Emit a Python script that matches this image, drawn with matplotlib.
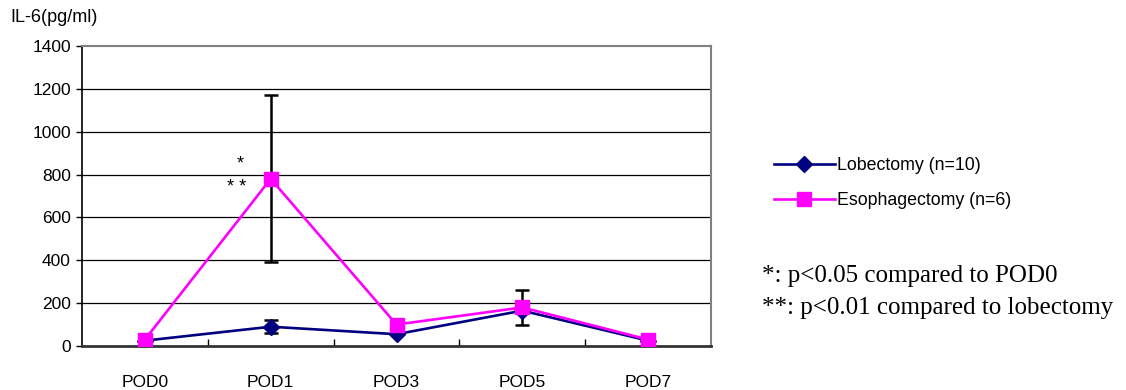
import numpy as np
import matplotlib as mpl
mpl.use('Agg')
import matplotlib.pyplot as plt

days = ["POD0", "POD1", "POD3", "POD5", "POD7"]
lobectomy = [25, 90, 55, 165, 25]
lobectomy_err = [0, 30, 0, 0, 0]
esophagectomy = [30, 780, 100, 180, 30]
esophagectomy_err = [0, 390, 0, 80, 0]
yticks = [0, 200, 400, 600, 800, 1000, 1200, 1400]

plt.rcParams['font.family'] = ['Liberation Sans', 'DejaVu Sans']

fig = plt.figure(figsize=(11.26, 3.90), dpi=100)
ax = fig.add_axes([82/1126, 1 - 346/390, 629/1126, 300/390])

x = np.arange(len(days))

# gridlines
for v in yticks[1:-1]:
    ax.axhline(v, color='black', lw=0.9, zorder=1)

ax.errorbar(x, esophagectomy, yerr=esophagectomy_err, fmt='none', ecolor='black',
            elinewidth=1.8, capsize=5, capthick=1.8, zorder=2)
ax.errorbar(x, lobectomy, yerr=lobectomy_err, fmt='none', ecolor='black',
            elinewidth=1.8, capsize=5, capthick=1.8, zorder=2)

ax.plot(x, lobectomy, color='#000080', lw=1.9, marker='D', ms=8,
        markerfacecolor='#000080', markeredgecolor='#000080', zorder=3,
        label='Lobectomy (n=10)')
ax.plot(x, esophagectomy, color='#FF00FF', lw=1.9, marker='s', ms=9.5,
        markerfacecolor='#FF00FF', markeredgecolor='#FF00FF', zorder=4,
        label='Esophagectomy (n=6)')

ax.set_xlim(-0.5, len(days) - 0.5)
ax.set_ylim(0, 1400)
ax.set_yticks(yticks)
ax.set_yticklabels([str(v) for v in yticks], fontsize=12.5)
ax.set_xticks(x)
ax.set_xticklabels(days, fontsize=12.5)
ax.set_xticks(np.arange(0.5, len(days) - 0.5, 1), minor=True)
ax.tick_params(axis='x', which='major', length=0, pad=21)
ax.tick_params(axis='x', which='minor', direction='in', length=5, width=1)
ax.tick_params(axis='y', direction='out', length=4, width=1, pad=4)

ax.spines['left'].set_color('black')
ax.spines['left'].set_linewidth(1.2)
ax.spines['bottom'].set_color('#333333')
ax.spines['bottom'].set_linewidth(2)
ax.spines['top'].set_color('#808080')
ax.spines['top'].set_linewidth(1.5)
ax.spines['right'].set_color('#808080')
ax.spines['right'].set_linewidth(1.5)

# significance marks near POD1
ax.text(0.76, 850, '*', fontsize=13, ha='center', va='center')
ax.text(0.73, 738, '* *', fontsize=13, ha='center', va='center')

fig.text(10/1126, 1 - 18/390, 'IL-6(pg/ml)', fontsize=13, ha='left', va='center')

fig.legend(loc='upper left', bbox_to_anchor=(767/1126, 1 - 150/390), frameon=False,
           fontsize=12.8, handlelength=3.4, handletextpad=0.15, labelspacing=1.0,
           borderaxespad=0)

fig.text(762/1126, 1 - 276/390, '*: p<0.05 compared to POD0', fontsize=18,
         family='Liberation Serif', ha='left', va='center')
fig.text(762/1126, 1 - 308/390, '**: p<0.01 compared to lobectomy', fontsize=18,
         family='Liberation Serif', ha='left', va='center')

fig.savefig('out.png', dpi=100)
